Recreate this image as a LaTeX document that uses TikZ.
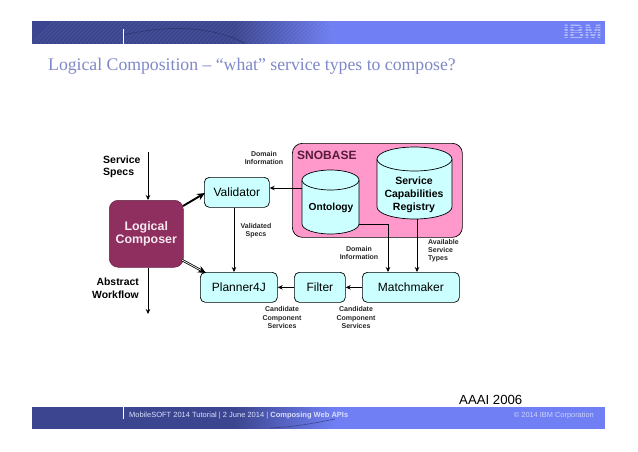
\documentclass[tikz,border=0pt]{standalone}
\usepackage{fontspec}
\setmainfont{Liberation Sans}
\newfontfamily\titlefont{Liberation Serif}
\usetikzlibrary{arrows.meta,calc}
\definecolor{cyanbox}{HTML}{CCFFFF}
\definecolor{plum}{HTML}{8E2F5F}
\definecolor{pinkbox}{HTML}{FF99CC}
\definecolor{bandlight}{HTML}{7080F4}
\definecolor{banddark}{HTML}{3C4690}
\definecolor{titleblue}{HTML}{7F88C8}
\tikzset{
  x=1pt,y=-1pt,
  box/.style={draw=black,line width=.7pt,fill=cyanbox,rounded corners=5pt,font=\fontsize{12}{13}\selectfont,inner sep=0pt,anchor=north west},
  flow/.style={draw=black,line width=.7pt,-{Stealth[length=5pt,width=4.5pt]}},
  fat/.style={draw=black,line width=.8pt,double=white,double distance=.7pt,-{Stealth[length=8pt,width=7pt]}},
  fatb/.style={draw=black,line width=1.9pt,-{Stealth[length=8pt,width=7pt]}},
  small/.style={font=\bfseries\fontsize{7}{8.2}\selectfont,align=center,inner sep=0pt,text=black!85},
  cyl/.style={draw=black,line width=.7pt,fill=cyanbox},
  bandtex/.style={line width=.5pt,draw=white,opacity=.09},
}
\begin{document}
\begin{tikzpicture}
\useasboundingbox (0,0) rectangle (638,451);
\fill[white] (0,0) rectangle (638,451);
% top band
\fill[bandlight] (32,21) rectangle (605,43.5);
\begin{scope}
\clip (32,21) rectangle (335,43.5);
\fill[banddark] (32,21) rectangle (236,43.5);
\shade[left color=banddark,right color=bandlight] (235,21) rectangle (335,43.5);
\foreach \k in {0,4,...,300}{\draw[bandtex] (32+\k,43.5) -- (54+\k,21);}
\draw[banddark!75!black,line width=.8pt,opacity=.8] (124,35) .. controls (170,24) and (215,27) .. (245,43.5);
\end{scope}
\fill[white] (230,43.6) rectangle (340,47);
\draw[white,line width=.7pt] (123,29) -- (123,43.5);
% bottom band
\fill[bandlight] (32,407) rectangle (605,429);
\begin{scope}
\clip (32,407) rectangle (335,429);
\fill[banddark] (32,407) rectangle (236,429);
\shade[left color=banddark,right color=bandlight] (235,407) rectangle (335,429);
\draw[banddark!75!black,line width=.6pt,opacity=.7] (270,428) .. controls (295,427) and (315,423) .. (335,419);
\end{scope}
\fill[white] (230,429.1) rectangle (340,433);
\draw[white,line width=.7pt] (123,407) -- (123,419);
\node[font=\bfseries\fontsize{21}{21}\selectfont,text=white!45!bandlight,anchor=center,inner sep=0pt] (ibm) at (582.5,32) {IBM};
\foreach \yy in {26,28.5,31,33.5,36,38.5}{\draw[bandlight,line width=.7pt] (560,\yy) -- (604,\yy);}
\node[font=\titlefont\fontsize{17.7}{20}\selectfont,text=titleblue,anchor=west,inner sep=0pt] (title) at (48,66) {Logical Composition – “what” service types to compose?};
\node[font=\fontsize{7.5}{9}\selectfont,text=white!75!bandlight,anchor=west,inner sep=0pt] (foot) at (129,416) {MobileSOFT 2014 Tutorial | 2 June 2014 | \textbf{Composing Web APIs}};
\node[font=\fontsize{7.4}{9}\selectfont,text=white!65!bandlight,anchor=east,inner sep=0pt] (copy) at (594,416) {© 2014 IBM Corporation};
\node[font=\fontsize{13.2}{14}\selectfont,anchor=west,inner sep=0pt] (aaai) at (459,400) {AAAI 2006};
% SNOBASE
\node[draw=black,line width=.7pt,fill=pinkbox,rounded corners=10pt,minimum width=170pt,minimum height=94pt,inner sep=0pt,anchor=north west] (snobase) at (292,143) {};
\node[font=\bfseries\fontsize{12}{14}\selectfont,text=plum!60!black,anchor=west,inner sep=0pt] (snolabel) at (297,155) {SNOBASE};
% cylinders
\draw[cyl] (302,180) -- (302,224) arc[start angle=180,end angle=360,x radius=28.5pt,y radius=10pt] -- (359,180) arc[start angle=0,end angle=180,x radius=28.5pt,y radius=10pt] -- cycle;
\draw[cyl] (302,180) arc[start angle=180,end angle=360,x radius=28.5pt,y radius=10pt];
\draw[cyl] (377,159) -- (377,207) arc[start angle=180,end angle=360,x radius=37.5pt,y radius=12pt] -- (452,159) arc[start angle=0,end angle=180,x radius=37.5pt,y radius=12pt] -- cycle;
\draw[cyl] (377,159) arc[start angle=180,end angle=360,x radius=37.5pt,y radius=12pt];
\node[font=\bfseries\fontsize{10.2}{12}\selectfont,inner sep=0pt] (ontology) at (331,208) {Ontology};
\node[font=\bfseries\fontsize{10.5}{13}\selectfont,align=center,inner sep=0pt] (registry) at (414,195) {Service\\Capabilities\\Registry};
\coordinate (ontoW) at (302,188);
\coordinate (ontoE) at (359,224);
\coordinate (regS) at (417,219);
% boxes
\node[box,minimum width=65pt,minimum height=30pt] (validator) at (204,177) {Validator};
\node[box,minimum width=77pt,minimum height=30pt] (planner) at (200,272) {Planner4J};
\node[box,minimum width=51pt,minimum height=30pt] (filter) at (294,272) {Filter};
\node[box,minimum width=97pt,minimum height=30pt] (match) at (362,272) {Matchmaker};
\node[draw=plum!70!black,line width=.5pt,fill=plum,rounded corners=9pt,minimum width=74pt,minimum height=67pt,inner sep=0pt,anchor=north west,text=white!90!plum,font=\bfseries\fontsize{12.4}{13.5}\selectfont,align=center] (composer) at (109,200) {Logical\\Composer};
% free ends
\coordinate (specIn) at (148,152);
\coordinate (flowOut) at (148,314);
\coordinate (fatA) at (183,206);
\coordinate (fatB) at (205,193);
\coordinate (fatC) at (182,260);
\coordinate (fatD) at (206,273);
\coordinate (vp) at (234,230);
\coordinate (om) at (388,224);
% connectors
\draw[flow] (specIn) -- (composer.north -| specIn);
\draw[flow] (composer.south -| flowOut) -- (flowOut);
\draw[fatb] (fatA) -- (fatB);
\draw[fat] (fatC) -- (fatD);
\draw[flow] (validator.south -| vp) -- (planner.north -| vp);
\draw[flow] (ontoW) -- (validator.east |- ontoW);
\draw[flow] (ontoE) -- (om) -- (match.north -| om);
\draw[flow] (regS) -- (match.north -| regS);
\draw[flow] (match.west) -- (filter.east);
\draw[flow] (filter.west) -- (planner.east);
% labels
\node[font=\bfseries\fontsize{10.5}{12.3}\selectfont,align=left,anchor=north west,inner sep=0pt] (specs) at (103,155.5) {Service\\Specs};
\node[font=\bfseries\fontsize{10.4}{12.6}\selectfont,align=right,anchor=north east,inner sep=0pt] (wf) at (139,278) {Abstract\\Workflow};
\node[small] (d1) at (264,158) {Domain\\Information};
\node[small] (vs) at (256,231) {Validated\\Specs};
\node[small] (d2) at (359,253) {Domain\\Information};
\node[small,align=left,anchor=north west] (ast) at (428,239) {Available\\Service\\Types};
\node[small] (c1) at (282,317.5) {Candidate\\Component\\Services};
\node[small] (c2) at (356,317.5) {Candidate\\Component\\Services};
\end{tikzpicture}
\end{document}
